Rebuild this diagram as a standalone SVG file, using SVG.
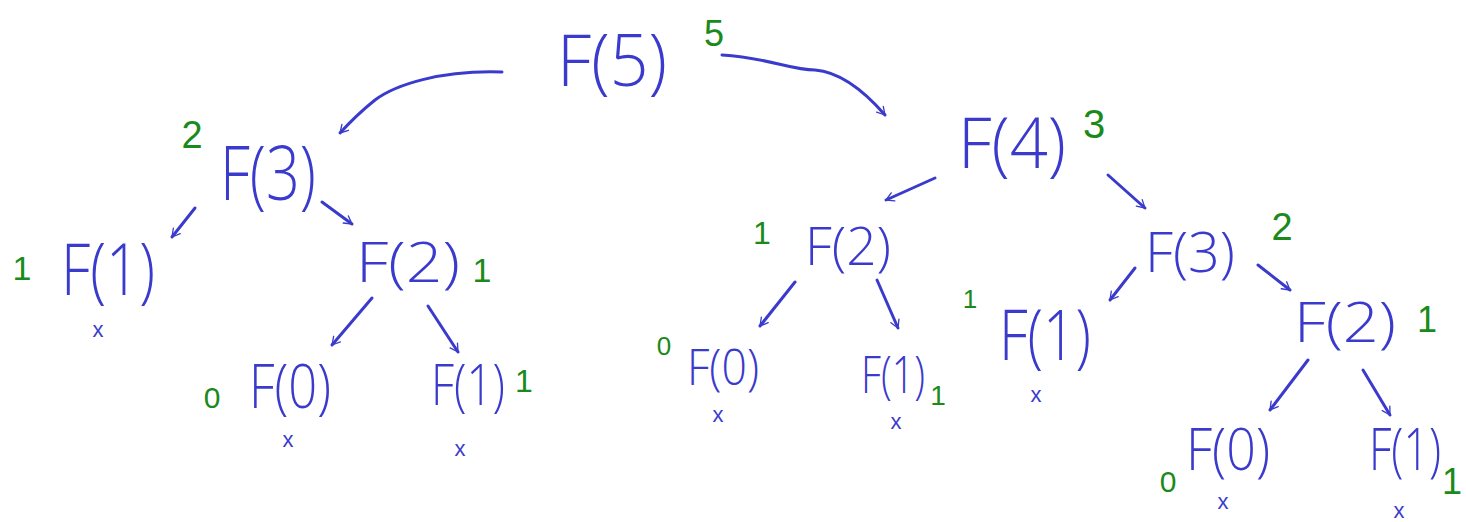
<svg xmlns="http://www.w3.org/2000/svg" width="1466" height="522" viewBox="0 0 1466 522">
<defs>
<marker id="ah" viewBox="0 0 20 20" refX="18" refY="10" markerWidth="11" markerHeight="11" markerUnits="userSpaceOnUse" orient="auto" overflow="visible">
<path d="M4,2 L18,10 L4,18" fill="none" stroke="#3a3acc" stroke-width="2.4" stroke-linecap="round" stroke-linejoin="round"/>
</marker>
<style>
.n{font-family:"Open Sans","Liberation Sans",sans-serif;font-weight:300;fill:#3a3acc;text-anchor:middle}
.v{font-family:"Liberation Sans",sans-serif;fill:#1a8a1a;text-anchor:middle}
.x{font-family:"Liberation Sans",sans-serif;fill:#3a3acc;text-anchor:middle;font-size:22px}
.c{fill:none;stroke:#3a3acc;stroke-width:3;stroke-linecap:round;marker-end:url(#ah)}
</style>
</defs>
<g id="connectors">
<path class="c" d="M502,72 C440,70 395,85 375,100 C360,112 350,122 340,133"/>
<path class="c" d="M722,55 C770,58 790,70 815,70 C840,72 865,92 885,115"/>
<path class="c" d="M195,208 L172,237"/>
<path class="c" d="M322,202 L352,224"/>
<path class="c" d="M372,298 L332,345"/>
<path class="c" d="M428,306 L458,352"/>
<path class="c" d="M935,178 L886,200"/>
<path class="c" d="M1108,175 L1145,208"/>
<path class="c" d="M795,282 L760,326"/>
<path class="c" d="M877,280 L898,328"/>
<path class="c" d="M1135,268 L1110,300"/>
<path class="c" d="M1258,265 L1290,290"/>
<path class="c" d="M1308,360 L1270,410"/>
<path class="c" d="M1363,370 L1390,415"/>
</g>
<g id="n-f5"><text class="n" transform="translate(612,86) scale(1,1.06)" font-size="68" textLength="110" lengthAdjust="spacingAndGlyphs">F(5)</text><text class="v" x="714" y="46" font-size="36">5</text></g>
<g id="n-f3a"><text class="n" transform="translate(268,200) scale(1,1.27)" font-size="60" textLength="96" lengthAdjust="spacingAndGlyphs">F(3)</text><text class="v" x="192" y="148" font-size="38">2</text></g>
<g id="n-f1a"><text class="n" transform="translate(108,295) scale(1,1.24)" font-size="58" textLength="94" lengthAdjust="spacingAndGlyphs">F(1)</text><text class="v" x="22" y="280" font-size="34">1</text><text class="x" x="98" y="337">x</text></g>
<g id="n-f2a"><text class="n" transform="translate(408,282) scale(1,0.86)" font-size="65" textLength="104" lengthAdjust="spacingAndGlyphs">F(2)</text><text class="v" x="482" y="282" font-size="34">1</text></g>
<g id="n-f0a"><text class="n" transform="translate(290,408) scale(1,1.18)" font-size="51" textLength="82" lengthAdjust="spacingAndGlyphs">F(0)</text><text class="v" x="212" y="408" font-size="30">0</text><text class="x" x="288" y="447">x</text></g>
<g id="n-f1b"><text class="n" transform="translate(468,405) scale(1,1.26)" font-size="46" textLength="74" lengthAdjust="spacingAndGlyphs">F(1)</text><text class="v" x="524" y="392" font-size="32">1</text><text class="x" x="460" y="456">x</text></g>
<g id="n-f4"><text class="n" transform="translate(1012,168) scale(1,1.04)" font-size="67" textLength="108" lengthAdjust="spacingAndGlyphs">F(4)</text><text class="v" x="1094" y="138" font-size="40">3</text></g>
<g id="n-f2b"><text class="n" transform="translate(848,265) scale(1,1.02)" font-size="53" textLength="86" lengthAdjust="spacingAndGlyphs">F(2)</text><text class="v" x="762" y="244" font-size="32">1</text></g>
<g id="n-f0b"><text class="n" transform="translate(723,385) scale(1,1.11)" font-size="45" textLength="72" lengthAdjust="spacingAndGlyphs">F(0)</text><text class="v" x="664" y="355" font-size="26">0</text><text class="x" x="718" y="422">x</text></g>
<g id="n-f1c"><text class="n" transform="translate(893,393) scale(1,1.3)" font-size="40" textLength="64" lengthAdjust="spacingAndGlyphs">F(1)</text><text class="v" x="938" y="405" font-size="28">1</text><text class="x" x="896" y="429">x</text></g>
<g id="n-f3b"><text class="n" transform="translate(1190,272) scale(1,1)" font-size="56" textLength="90" lengthAdjust="spacingAndGlyphs">F(3)</text><text class="v" x="1282" y="240" font-size="38">2</text></g>
<g id="n-f1d"><text class="n" transform="translate(1045,360) scale(1,1.23)" font-size="57" textLength="92" lengthAdjust="spacingAndGlyphs">F(1)</text><text class="v" x="970" y="308" font-size="26">1</text><text class="x" x="1036" y="402">x</text></g>
<g id="n-f2c"><text class="n" transform="translate(1345,342) scale(1,0.89)" font-size="63" textLength="102" lengthAdjust="spacingAndGlyphs">F(2)</text><text class="v" x="1427" y="332" font-size="36">1</text></g>
<g id="n-f0c"><text class="n" transform="translate(1228,470) scale(1,1.12)" font-size="52" textLength="84" lengthAdjust="spacingAndGlyphs">F(0)</text><text class="v" x="1168" y="492" font-size="30">0</text><text class="x" x="1223" y="509">x</text></g>
<g id="n-f1e"><text class="n" transform="translate(1405,470) scale(1,1.29)" font-size="45" textLength="72" lengthAdjust="spacingAndGlyphs">F(1)</text><text class="v" x="1452" y="494" font-size="36">1</text><text class="x" x="1399" y="518">x</text></g>
</svg>
